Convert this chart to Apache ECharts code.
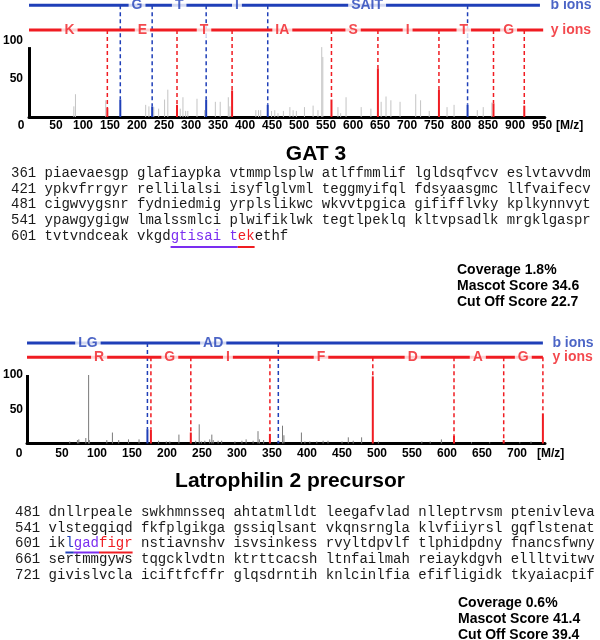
<!DOCTYPE html>
<html><head><meta charset="utf-8">
<script src="https://cdn.jsdelivr.net/npm/echarts@6/dist/echarts.min.js"></script>
<style>html,body{margin:0;padding:0;background:#fff}#c{width:600px;height:640px}</style>
</head><body><div id="c"></div>
<script>
// ---------- GAT 3 spectrum ----------
const gat3Mz  = [83, 86, 142, 216, 222, 231, 240, 251, 257, 280, 285, 290, 294, 311, 325, 345, 354, 369, 372, 420, 425, 429, 449, 455, 461, 471, 483, 489, 495, 510, 526, 535, 542, 544, 572, 577, 587, 615, 633, 652, 661, 670, 687, 716, 725, 741, 774, 787, 830, 841, 857];
const gat3Int = [14, 30, 22, 16, 14, 13, 11, 23, 36, 11, 26, 8, 8, 24, 9, 20, 20, 26, 14, 9, 9, 9, 8, 9, 5, 8, 13, 9, 8, 13, 15, 9, 92, 79, 13, 5, 26, 13, 11, 20, 27, 22, 20, 30, 22, 8, 13, 16, 9, 13, 19];
const gat3BMz  = [169, 228, 328, 442, 812];
const gat3BInt = [23, 14, 23, 16, 16];
const gat3YMz  = [145, 274, 376, 560, 646, 759, 860, 917];
const gat3YInt = [12, 16, 35, 23, 64, 36, 18, 15];
const gat3BLabels  = ['G', 'T', 'I', 'SAIT'];
const gat3BLabelMz = [200, 278, 385, 626];
const gat3YLabels  = ['K', 'E', 'T', 'IA', 'S', 'I', 'T', 'G'];
const gat3YLabelMz = [75, 210, 324, 469, 600, 701, 805, 888];
const gat3LadderEnd = [946, 952];
const gat3XTicks = [0, 50, 100, 150, 200, 250, 300, 350, 400, 450, 500, 550, 600, 650, 700, 750, 800, 850, 900, 950];
const gat3YTicks = [50, 100];

// ---------- Latrophilin 2 precursor spectrum ----------
const latMz  = [61, 72, 74, 84, 88, 89, 114, 122, 131, 145, 160, 188, 199, 204, 217, 241, 246, 249, 254, 261, 264, 266, 273, 278, 297, 307, 313, 323, 330, 332, 338, 365, 367, 392, 397, 404, 414, 423, 430, 450, 459, 466, 478, 502, 564, 576, 592, 635, 661, 704, 720];
const latInt = [3, 5, 6, 8, 100, 5, 5, 16, 5, 6, 6, 4, 3, 3, 13, 4, 28, 3, 4, 6, 13, 5, 4, 4, 3, 4, 6, 4, 18, 6, 5, 26, 12, 16, 3, 3, 3, 4, 4, 3, 9, 4, 9, 3, 3, 3, 6, 2, 2, 2, 3];
const latBMz  = [172, 359];
const latBInt = [21, 4];
const latYMz  = [177, 234, 347, 494, 610, 681, 737];
const latYInt = [20, 16, 14, 98, 11, 5, 44];
const latBLabels  = ['LG', 'AD'];
const latBLabelMz = [87, 266];
const latYLabels  = ['R', 'G', 'I', 'F', 'D', 'A', 'G'];
const latYLabelMz = [103, 204, 287, 420, 551, 644, 709];
const latLadderEnd = [737, 737];
const latXTicks = [0, 50, 100, 150, 200, 250, 300, 350, 400, 450, 500, 550, 600, 650, 700];
const latYTicks = [50, 100];

// ---------- sequences ----------
const gat3Start = [361, 421, 481, 541, 601];
const gat3Seq = [
  'piaevaesgp glafiaypka vtmmplsplw atlffmmlif lgldsqfvcv eslvtavvdm',
  'ypkvfrrgyr rellilalsi isyflglvml teggmyifql fdsyaasgmc llfvaifecv',
  'cigwvygsnr fydniedmig yrplslikwc wkvvtpgica gififflvky kplkynnvyt',
  'ypawgygigw lmalssmlci plwifiklwk tegtlpeklq kltvpsadlk mrgklgaspr',
  'tvtvndceak vkgd{p|gtisai t}{r|ek}ethf'
];
const gat3Scores = ['Coverage 1.8%', 'Mascot Score 34.6', 'Cut Off Score 22.7'];

const latStart = [481, 541, 601, 661, 721];
const latSeq = [
  'dnllrpeale swkhmnsseq ahtatmlldt leegafvlad nlleptrvsm ptenivleva',
  'vlstegqiqd fkfplgikga gssiqlsant vkqnsrngla klvfiiyrsl gqflstenat',
  'ik{b|l}{p|gad}{r|figr} nstiavnshv isvsinkess rvyltdpvlf tlphidpdny fnancsfwny',
  'sertmmgyws tqgcklvdtn ktrttcacsh ltnfailmah reiaykdgvh ellltvitwv',
  'givislvcla iciftfcffr glqsdrntih knlcinlfia efifligidk tkyaiacpif'
];
const latScores = ['Coverage 0.6%', 'Mascot Score 41.4', 'Cut Off Score 39.4'];

// ---------- styling ----------
const BLUE = '#1f3fb8', RED = '#f01c22', PURPLE = '#7b2ef0';
const SANS = '"Liberation Sans", Arial, sans-serif';
const MONO = '"Liberation Mono", "Courier New", monospace';

function peakItem(color, width) {
  return function (params, api) {
    const x = api.value(0), h = api.value(1);
    const p0 = api.coord([x, 0]), p1 = api.coord([x, h]);
    return { type: 'line', shape: { x1: p0[0], y1: p0[1], x2: p1[0], y2: p1[1] },
             style: { stroke: color, lineWidth: width } };
  };
}
function ionItem(color) {
  return function (params, api) {
    const x = api.value(0), h = api.value(1), lvl = api.value(2);
    const pb = api.coord([x, 0]), pt = api.coord([x, h]), pl = api.coord([x, lvl]);
    return { type: 'group', children: [
      { type: 'line', shape: { x1: pl[0], y1: pl[1], x2: pt[0], y2: pt[1] },
        style: { stroke: color, lineWidth: 1.5, lineDash: [4, 3] } },
      { type: 'line', shape: { x1: pt[0], y1: pt[1], x2: pb[0], y2: pb[1] },
        style: { stroke: color, lineWidth: 2 } }
    ] };
  };
}

function spectrumSeries(i, d) {
  const ax = { xAxisIndex: i, yAxisIndex: i };
  const s = [];
  s.push(Object.assign({ type: 'custom', renderItem: peakItem(d.gray, 1), encode: { x: 0, y: 1 },
    data: d.mz.map((m, k) => [m, d.int[k]]), z: 2, silent: true }, ax));
  s.push(Object.assign({ type: 'custom', renderItem: ionItem(BLUE), encode: { x: 0, y: 1 },
    data: d.bMz.map((m, k) => [m, d.bInt[k], d.bLvl]), z: 3, silent: true }, ax));
  s.push(Object.assign({ type: 'custom', renderItem: ionItem(RED), encode: { x: 0, y: 1 },
    data: d.yMz.map((m, k) => [m, d.yInt[k], d.yLvl]), z: 3, silent: true }, ax));
  // ladders
  s.push(Object.assign({ type: 'line', data: [[0, d.bLvl], [d.end[0], d.bLvl]], symbol: 'none',
    lineStyle: { color: BLUE, width: 3 }, z: 4, silent: true,
    markLine: { symbol: 'none', silent: true, label: { show: false },
      lineStyle: { color: '#000', width: 3, type: 'solid' },
      data: [[{ coord: [0, 0] }, { coord: [0, d.axisTop] }]] } }, ax));
  s.push(Object.assign({ type: 'line', data: [[0, d.yLvl], [d.end[1], d.yLvl]], symbol: 'none',
    lineStyle: { color: RED, width: 3 }, z: 4, silent: true }, ax));
  const lab = (color) => ({ show: true, position: 'inside', formatter: p => p.data[2],
    color: color, fontFamily: SANS, fontWeight: 'bold', fontSize: 14,
    backgroundColor: '#fff', padding: [0, 3] });
  s.push(Object.assign({ type: 'scatter', symbolSize: 1, itemStyle: { color: 'rgba(0,0,0,0)' },
    data: d.bLab.map((t, k) => [d.bLabMz[k], d.bLvl, t]), label: lab(BLUE), z: 6, silent: true }, ax));
  s.push(Object.assign({ type: 'scatter', symbolSize: 1, itemStyle: { color: 'rgba(0,0,0,0)' },
    data: d.yLab.map((t, k) => [d.yLabMz[k], d.yLvl, t]), label: lab(RED), z: 6, silent: true }, ax));
  const nm = (color, dist) => ({ show: true, position: 'right', distance: dist, formatter: p => p.data[2],
    color: color, fontFamily: SANS, fontWeight: 'bold', fontSize: 14 });
  s.push(Object.assign({ type: 'scatter', symbolSize: 1, itemStyle: { color: 'rgba(0,0,0,0)' },
    data: [[d.end[0], d.bLvl, 'b ions']], label: nm(BLUE, d.nameDist[0]), z: 6, silent: true }, ax));
  s.push(Object.assign({ type: 'scatter', symbolSize: 1, itemStyle: { color: 'rgba(0,0,0,0)' },
    data: [[d.end[1], d.yLvl, 'y ions']], label: nm(RED, d.nameDist[1]), z: 6, silent: true }, ax));
  return s;
}

function xAxisFor(i, max, ticks, labelMargin, nameGap) {
  return { type: 'value', gridIndex: i, min: 0, max: max, interval: 50,
    axisLine: { show: true, lineStyle: { color: '#000', width: 3 } },
    axisTick: { show: false }, splitLine: { show: false },
    name: '[M/z]', nameLocation: 'end', nameGap: nameGap,
    nameTextStyle: { color: '#000', fontWeight: 'bold', fontSize: 12, fontFamily: SANS,
      verticalAlign: 'top', padding: [labelMargin, 0, 0, 0] },
    axisLabel: { margin: labelMargin, color: '#000', fontWeight: 'bold', fontSize: 12, fontFamily: SANS,
      formatter: v => v === 0 ? '{o|0}' : (ticks.indexOf(v) >= 0 ? String(v) : ''),
      rich: { o: { padding: [0, 16, 0, 0], color: '#000', fontWeight: 'bold', fontSize: 12, fontFamily: SANS } } } };
}
function yAxisFor(i, max, ticks, margin) {
  return { type: 'value', gridIndex: i, min: 0, max: max, interval: 50,
    axisLine: { show: false }, axisTick: { show: false }, splitLine: { show: false },
    axisLabel: { margin: margin, color: '#000', fontWeight: 'bold', fontSize: 12, fontFamily: SANS,
      formatter: v => ticks.indexOf(v) >= 0 ? String(v) : '' } };
}

const gat3 = { mz: gat3Mz, int: gat3Int, gray: '#c4c4c4', bMz: gat3BMz, bInt: gat3BInt, yMz: gat3YMz, yInt: gat3YInt,
  bLvl: 147, yLvl: 114.5, bLab: gat3BLabels, bLabMz: gat3BLabelMz, yLab: gat3YLabels, yLabMz: gat3YLabelMz,
  end: gat3LadderEnd, axisTop: 92, nameDist: [10, 7] };
const lat = { mz: latMz, int: latInt, gray: '#7a7a7a', bMz: latBMz, bInt: latBInt, yMz: latYMz, yInt: latYInt,
  bLvl: 146.7, yLvl: 126, bLab: latBLabels, bLabMz: latBLabelMz, yLab: latYLabels, yLabMz: latYLabelMz,
  end: latLadderEnd, axisTop: 100, nameDist: [9, 9] };

// text graphics
const g = [];
function txt(x, y, text, font, fill, align, rich) {
  const st = { text: text, x: 0, y: 0, font: font, fill: fill,
    align: align, textAlign: align, verticalAlign: 'middle', textVerticalAlign: 'middle' };
  if (rich) st.rich = rich;
  g.push({ type: 'text', x: x, y: y, style: st, silent: true });
}
function uline(x1, x2, y, color) {
  g.push({ type: 'line', shape: { x1: x1, y1: y, x2: x2, y2: y }, style: { stroke: color, lineWidth: 2 }, silent: true });
}
const CW = 8.4;
const monoFont = '14px ' + MONO;
const richSeq = {
  p: { fill: PURPLE, fontSize: 14, fontFamily: MONO },
  r: { fill: RED, fontSize: 14, fontFamily: MONO },
  b: { fill: BLUE, fontSize: 14, fontFamily: MONO }
};
txt(316, 154, 'GAT 3', 'bold 21px ' + SANS, '#000', 'center');
const gat3Rows = [173, 189, 204.5, 220, 236];
gat3Seq.forEach((s, k) => txt(11, gat3Rows[k], gat3Start[k] + ' ' + s, monoFont, '#1a1a1a', 'left', richSeq));
uline(11 + 19 * CW, 11 + 27 * CW, 247, PURPLE);
uline(11 + 27 * CW, 11 + 29 * CW, 247, RED);
const gat3ScoreRows = [270, 286, 302];
gat3Scores.forEach((s, k) => txt(457, gat3ScoreRows[k], s, 'bold 14px ' + SANS, '#000', 'left'));

txt(290, 481, 'Latrophilin 2 precursor', 'bold 21px ' + SANS, '#000', 'center');
const latRows = [512, 528, 543.5, 559, 575];
latSeq.forEach((s, k) => txt(15, latRows[k], latStart[k] + ' ' + s, monoFont, '#1a1a1a', 'left', richSeq));
uline(15 + 6 * CW, 15 + 7 * CW, 552.5, BLUE);
uline(15 + 7 * CW, 15 + 10 * CW, 552.5, PURPLE);
uline(15 + 10 * CW, 15 + 14 * CW, 552.5, RED);
const latScoreRows = [603, 619, 635];
latScores.forEach((s, k) => txt(458, latScoreRows[k], s, 'bold 14px ' + SANS, '#000', 'left'));

const option = {
  animation: false,
  backgroundColor: '#fff',
  grid: [
    { left: 26, top: 0, width: 518.8, height: 117 },
    { left: 27, top: 340.75, width: 518, height: 102.75 }
  ],
  xAxis: [ xAxisFor(0, 955, gat3XTicks, 3, 8), xAxisFor(1, 740, latXTicks, 4, -8) ],
  yAxis: [ yAxisFor(0, 154, gat3YTicks, 6), yAxisFor(1, 150, latYTicks, 4) ],
  series: spectrumSeries(0, gat3).concat(spectrumSeries(1, lat)),
  graphic: g
};
const chart = echarts.init(document.getElementById('c'), null, { renderer: 'canvas' });
chart.setOption(option);
</script></body></html>
